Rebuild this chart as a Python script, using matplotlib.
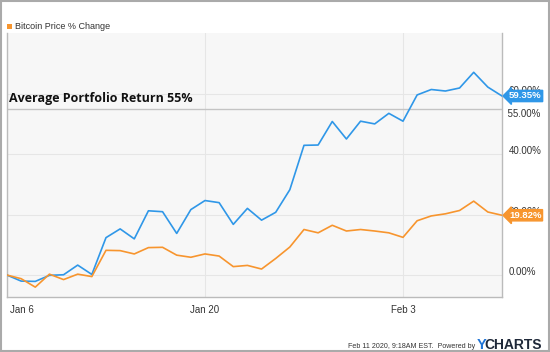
import pandas as pd
import matplotlib.pyplot as plt
import matplotlib.transforms as mtransforms
from matplotlib.patches import Rectangle

# dates shown (daily, Jan 6 to Feb 10 2020)
dates = pd.date_range("2020-01-06", "2020-02-10", freq="D")

# portfolio (blue, no legend entry) % change
portfolio = [0.0, -2.0, -2.1, -0.1, 0.1, 3.3, 0.2, 12.4, 15.3, 12.0,
             21.3, 21.0, 13.8, 21.7, 24.7, 24.0, 16.8, 22.1, 18.2, 20.8,
             28.3, 43.0, 43.1, 50.9, 45.1, 51.0, 50.1, 53.6, 51.0, 59.7,
             61.5, 61.0, 62.0, 67.2, 62.3, 59.35]

# bitcoin price % change (orange)
bitcoin = [0.0, -1.2, -4.0, 0.3, -1.5, 0.3, -0.5, 8.2, 8.1, 7.0,
           9.1, 9.2, 6.6, 5.9, 7.0, 6.3, 2.8, 3.2, 2.0, 5.5,
           9.3, 15.1, 14.0, 16.5, 14.6, 15.1, 14.6, 14.0, 12.5, 18.0,
           19.6, 20.3, 21.4, 24.5, 20.9, 19.82]

avg_return = 55
yticks = [0, 20, 40, 60]
xtick_dates = ["2020-01-06", "2020-01-20", "2020-02-03"]
xtick_labels = ["Jan 6", "Jan 20", "Feb 3"]

blue = "#2f97e8"
orange = "#f7952e"
grey_txt = "#333333"

fig = plt.figure(figsize=(5.5, 3.52), dpi=100)
fig.patch.set_facecolor("white")
ax = fig.add_axes([0.0127, 0.156, 0.9, 0.75])
ax.set_facecolor("#f7f7f7")

ax.plot(dates, portfolio, color=blue, linewidth=1.2, zorder=3)
ax.plot(dates, bitcoin, color=orange, linewidth=1.2, zorder=3)

ax.set_xlim(dates[0], dates[-1])
ax.set_ylim(-7.3, 80.2)

# grid
ax.set_yticks(yticks)
ax.set_xticks(pd.to_datetime(xtick_dates))
ax.grid(True, color="#e6e6e6", linewidth=0.8, zorder=0)
ax.tick_params(length=0, labelsize=7, colors=grey_txt)
ax.yaxis.tick_right()
ax.set_yticklabels([f"{v:.2f}%" for v in yticks], fontfamily="Liberation Sans")
ax.set_xticklabels(xtick_labels, fontfamily="Liberation Sans")
ax.tick_params(axis="y", pad=5)
ax.tick_params(axis="x", pad=6)
ax.get_xticklabels()[0].set_horizontalalignment("left")
# y labels sit a little above their gridline
shift_up = mtransforms.ScaledTranslation(0, 4 / 100, fig.dpi_scale_trans)
for lab in ax.get_yticklabels():
    lab.set_transform(lab.get_transform() + shift_up)
shift_right = mtransforms.ScaledTranslation(3 / 100, 0, fig.dpi_scale_trans)
ax.get_xticklabels()[0].set_transform(ax.get_xticklabels()[0].get_transform() + shift_right)

for s in ax.spines.values():
    s.set_color("#bbbbbb")
    s.set_linewidth(1.0)
ax.spines["top"].set_visible(False)

# average portfolio return line
ax.axhline(avg_return, color="#c4c4c4", linewidth=1.0, zorder=2)
ax.text(0.005, avg_return + 1.2, "Average Portfolio Return 55%", transform=ax.get_yaxis_transform(),
        fontsize=9, fontweight="bold", fontfamily="Open Sans", color="#111111", va="bottom", ha="left")
trans = mtransforms.blended_transform_factory(ax.transAxes, ax.transData)
ax.text(1.0, avg_return - 1.5, "  55.00%", transform=trans, fontsize=7, color=grey_txt,
        fontfamily="Liberation Sans", va="center", ha="left", clip_on=False)

# end value badges
for val, col in [(portfolio[-1], blue), (bitcoin[-1], orange)]:
    ax.text(1.014, val, f"{val:.2f}%", transform=trans, fontsize=6.8, fontweight="bold",
            color="white", fontfamily="Liberation Sans", va="center", ha="left", clip_on=False, zorder=5,
            bbox=dict(boxstyle="larrow,pad=0.12", fc=col, ec=col))

# legend
fig.patches.append(Rectangle((7 / 550, 1 - 29 / 352), 5 / 550, 5 / 352,
                             transform=fig.transFigure, fc=orange, ec="none"))
fig.text(15 / 550, 1 - 26.5 / 352, "Bitcoin Price % Change", fontsize=6.5, color=grey_txt,
         fontfamily="Liberation Sans", va="center", ha="left")

# footer
fig.text(475 / 550, 1 - 346 / 352, "Feb 11 2020, 9:18AM EST.  Powered by", fontsize=5.1,
         color=grey_txt, fontfamily="Liberation Sans", va="center", ha="right")
fig.text(486 / 550, 1 - 345 / 352, "Y", fontsize=10.5, fontweight="bold",
         color="#1f74d6", fontfamily="Liberation Sans", va="center", ha="right")
fig.text(542 / 550, 1 - 345 / 352, "CHARTS", fontsize=10, fontweight="bold",
         color="#1e2838", fontfamily="Liberation Sans", va="center", ha="right")

# outer frame
fig.patches.append(Rectangle((0.002, 0.003), 0.996, 0.994, transform=fig.transFigure,
                             fc="none", ec="#aaaaaa", linewidth=1.5))

plt.savefig("out.png", dpi=100)
